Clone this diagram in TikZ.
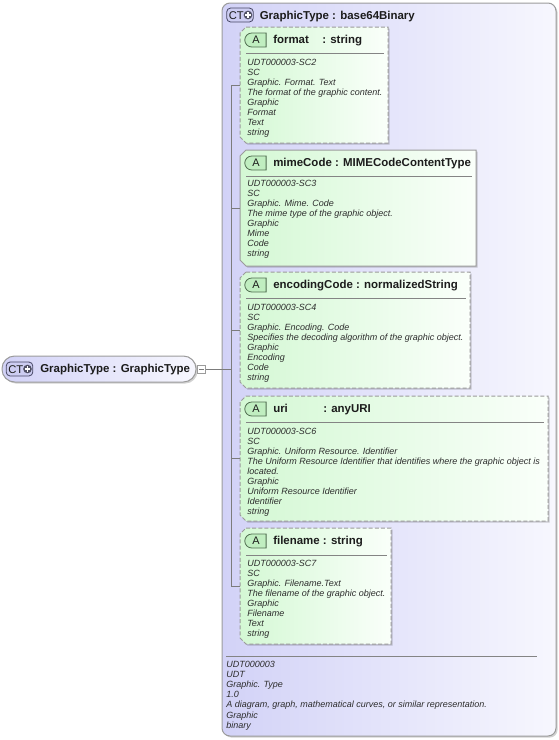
\documentclass[tikz,border=0pt]{standalone}
\usepackage{fontspec}
\setmainfont{Liberation Sans}
\usetikzlibrary{shapes.misc,fit,shadows}
\definecolor{lavL}{RGB}{210,210,247}
\definecolor{lavR}{RGB}{247,247,254}
\definecolor{grnL}{RGB}{212,248,212}
\definecolor{grnR}{RGB}{250,255,250}
\definecolor{bord}{RGB}{155,155,155}
\definecolor{txt}{RGB}{28,28,28}
\definecolor{btxt}{RGB}{45,45,45}
\definecolor{iconA}{RGB}{192,238,192}
\definecolor{iconAb}{RGB}{80,110,80}
\definecolor{iconCT}{RGB}{205,205,242}
\definecolor{iconCTb}{RGB}{70,70,100}
\definecolor{plusc}{RGB}{80,80,100}

\tikzset{
  shd/.style={drop shadow={shadow xshift=1.2pt,shadow yshift=-1.2pt,fill=black,opacity=0.18}},
  ctbox/.style={rectangle, rounded corners=6pt, inner sep=0, draw=bord, line width=0.75pt, left color=lavL, right color=lavR, shd},
  mainnode/.style={rectangle, rounded corners=9.5pt, inner sep=0, draw=bord, line width=0.75pt, left color=lavL, right color=lavR, shd},
  boxfit/.style={rectangle, inner sep=0, outer sep=0},
  attshape/.style={draw=bord, line width=0.75pt, left color=grnL, right color=grnR, shd},
  opt/.style={dash pattern=on 3pt off 1.6pt},
  hdr/.style={font=\fontsize{8.6}{10}\selectfont\bfseries, text=txt, inner sep=0, anchor=base west},
  body/.style={font=\fontsize{6.75}{7.5}\selectfont\itshape, text=btxt, inner sep=0, anchor=base west},
  aicon/.style={rounded rectangle, rounded rectangle right arc=none, minimum width=16pt, minimum height=10.5pt, inner sep=0, draw=iconAb, line width=0.6pt, fill=iconA, font=\fontsize{8.2}{10}\selectfont, text=txt},
  cticon/.style={rectangle, rounded corners=3pt, minimum width=20pt, minimum height=10.5pt, inner sep=0, draw=iconCTb, line width=0.6pt, fill=iconCT},
  cttext/.style={font=\fontsize{8.4}{10}\selectfont, text=txt, inner sep=0, anchor=base west},
  pluscirc/.style={circle, fill=plusc, minimum size=6.5pt, inner sep=0},
  sepline/.style={draw=bord!85!black, line width=0.7pt},
  conn/.style={draw=bord!80!black, line width=0.6pt},
}
\newcommand\attoutline[2]{%
  \path[attshape,#2] ([xshift=4.5pt]#1.north west) -- (#1.north east) -- (#1.south east)
    -- ([xshift=4.5pt]#1.south west) -- ([yshift=4.5pt]#1.south west)
    -- ([yshift=-4.5pt]#1.north west) -- cycle;}

\begin{document}
\begin{tikzpicture}[x=0.75pt,y=-0.75pt]
\useasboundingbox (0,0) rectangle (559,740);

% container
\node[ctbox, fit={(222,3)(556,736)}] (ct) {};
\node[cticon] (cti) at (240,15) {};
\node[cttext] (ctt) at (228.5,19.2) {CT};
\node[pluscirc] (ctp) at (248,15) {};
\draw[white, line width=0.9pt] ([xshift=-2pt]ctp.center) -- ([xshift=2pt]ctp.center) ([yshift=-2pt]ctp.center) -- ([yshift=2pt]ctp.center);
\node[hdr] (cth) at (259.5,19) {GraphicType : base64Binary};

% main node
\node[mainnode, fit={(2,356)(196,382)}] (main) {};
\node[cticon] (mi) at (19.5,369) {};
\node[cttext] (mt) at (8,373.2) {CT};
\node[pluscirc] (mp) at (27.5,369) {};
\draw[white, line width=0.9pt] ([xshift=-2pt]mp.center) -- ([xshift=2pt]mp.center) ([yshift=-2pt]mp.center) -- ([yshift=2pt]mp.center);
\node[hdr] (mh) at (40,372.8) {GraphicType : GraphicType};
\node[rectangle, draw=bord, fill=white, line width=0.6pt, minimum size=6pt, inner sep=0] (minus) at (201.5,369) {};
\draw[bord!80!black, line width=0.5pt] ([xshift=-1.8pt]minus.center) -- ([xshift=1.8pt]minus.center);

% attribute boxes
\node[boxfit, fit={(240,27)(388,143)}] (fmt) {};
\node[boxfit, fit={(240,150)(476,266)}] (mime) {};
\node[boxfit, fit={(240,272)(470,388)}] (enc) {};
\node[boxfit, fit={(240,396)(548,521)}] (uri) {};
\node[boxfit, fit={(240,528)(391,644)}] (fn) {};
\attoutline{fmt}{opt}
\attoutline{mime}{}
\attoutline{enc}{opt}
\attoutline{uri}{opt}
\attoutline{fn}{opt}

% tree connectors
\coordinate (trunk) at (231,369);
\draw[conn] (minus.east) -- (trunk);
\draw[conn] (trunk |- fmt.west) -- (trunk |- fn.west);
\foreach \b in {fmt,mime,enc,uri,fn}
  \draw[conn] (trunk |- \b.west) -- (\b.west);

% format
\node[aicon] (fmta) at (256,40) {A};
\node[hdr] (fmtn) at (273,43.5) {format};
\node[hdr] (fmtt) at (322,43.5) {: string};
\draw[sepline] (246,53) -- (384,53);
\foreach [count=\i from 0] \lin in {UDT000003-SC2, SC, Graphic. Format. Text, The format of the graphic content., Graphic, Format, Text, string}
  \node[body] (fmtl\i) at (247,{65+10*\i}) {\lin};

% mimeCode
\node[aicon] (mimea) at (256,163) {A};
\node[hdr] (mimen) at (273,166.5) {mimeCode : MIMECodeContentType};
\draw[sepline] (246,176) -- (472,176);
\foreach [count=\i from 0] \lin in {UDT000003-SC3, SC, Graphic. Mime. Code, The mime type of the graphic object., Graphic, Mime, Code, string}
  \node[body] (mimel\i) at (247,{186+10*\i}) {\lin};

% encodingCode
\node[aicon] (enca) at (256,285) {A};
\node[hdr] (encn) at (273,288.5) {encodingCode : normalizedString};
\draw[sepline] (246,298.5) -- (466,298.5);
\foreach [count=\i from 0] \lin in {UDT000003-SC4, SC, Graphic. Encoding. Code, Specifies the decoding algorithm of the graphic object., Graphic, Encoding, Code, string}
  \node[body] (encl\i) at (247,{310+10*\i}) {\lin};

% uri
\node[aicon] (uria) at (256,409) {A};
\node[hdr] (urin) at (273,412.5) {uri};
\node[hdr] (urit) at (323,412.5) {: anyURI};
\draw[sepline] (246,422.5) -- (544,422.5);
\foreach [count=\i from 0] \lin in {UDT000003-SC6, SC, Graphic. Uniform Resource. Identifier, The Uniform Resource Identifier that identifies where the graphic object is, located., Graphic, Uniform Resource Identifier, Identifier, string}
  \node[body] (uril\i) at (247,{434+10*\i}) {\lin};

% filename
\node[aicon] (fna) at (256,541) {A};
\node[hdr] (fnn) at (273,544.5) {filename : string};
\draw[sepline] (246,555) -- (387,555);
\foreach [count=\i from 0] \lin in {UDT000003-SC7, SC, Graphic. Filename.Text, The filename of the graphic object., Graphic, Filename, Text, string}
  \node[body] (fnl\i) at (247,{566+10*\i}) {\lin};

% footer
\draw[sepline] (226,656) -- (537,656);
\foreach [count=\i from 0] \lin in {UDT000003, UDT, Graphic. Type, 1.0, {A diagram, graph, mathematical curves, or similar representation.}, Graphic, binary}
  \node[body] (ftl\i) at (226,{667.5+10.1*\i}) {\lin};
\end{tikzpicture}
\end{document}
